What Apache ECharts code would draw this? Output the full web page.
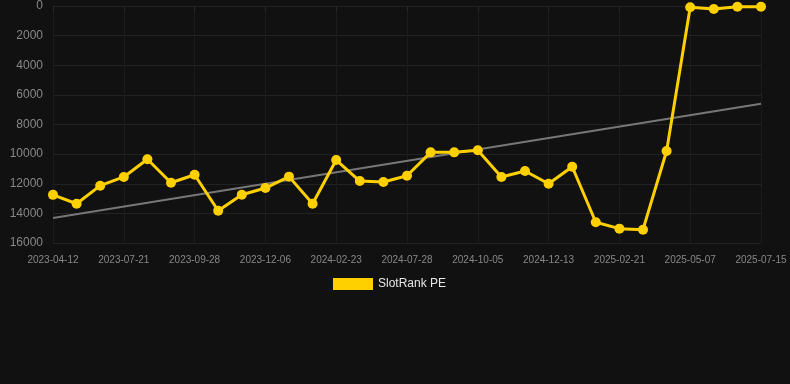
<!DOCTYPE html>
<html>
<head>
<meta charset="utf-8">
<script src="https://cdn.jsdelivr.net/npm/echarts@6/dist/echarts.min.js"></script>
<style>
  html, body { margin: 0; padding: 0; background: #111111; }
  #chart { width: 790px; height: 384px; }
</style>
</head>
<body>
<div id="chart"></div>
<script>
const dates = [
  '2023-04-12', '2023-05-15', '2023-06-17', '2023-07-21', '2023-08-13', '2023-09-05',
  '2023-09-28', '2023-10-21', '2023-11-13', '2023-12-06', '2024-01-04', '2024-01-29',
  '2024-02-23', '2024-04-05', '2024-06-16', '2024-07-28', '2024-08-20', '2024-09-12',
  '2024-10-05', '2024-10-28', '2024-11-20', '2024-12-13', '2025-01-05', '2025-01-29',
  '2025-02-21', '2025-03-18', '2025-04-12', '2025-05-07', '2025-05-30', '2025-06-22',
  '2025-07-15'
];

const rankValues = [
  12750, 13350, 12130, 11540, 10350, 11930,
  11390, 13820, 12740, 12290, 11520, 13350,
  10400, 11820, 11880, 11460, 9880, 9880,
  9740, 11540, 11140, 12000, 10850, 14600,
  15030, 15100, 9790, 90, 200, 45,
  45
];

// trend line endpoints (first and last category)
const trendStart = 14310;
const trendEnd = 6600;
const trendValues = dates.map((d, i) => i === 0 ? trendStart : (i === dates.length - 1 ? trendEnd : null));

const yTicks = [0, 2000, 4000, 6000, 8000, 10000, 12000, 14000, 16000];

const chart = echarts.init(document.getElementById('chart'));

chart.setOption({
  backgroundColor: '#111111',
  animation: false,
  textStyle: { fontFamily: 'Arial, "Liberation Sans", sans-serif' },
  grid: { left: 53, right: 29, top: 6, bottom: 141, containLabel: false },
  legend: {
    data: [{ name: 'SlotRank PE', icon: 'rect' }],
    top: 273,
    left: 328,
    itemWidth: 40,
    itemHeight: 12,
    itemGap: 10,
    textStyle: { color: '#e6e6e6', fontSize: 12 }
  },
  xAxis: {
    type: 'category',
    data: dates,
    boundaryGap: false,
    axisLine: { show: false },
    axisTick: { show: true, interval: 2, length: 5, lineStyle: { color: '#2a2a2a' } },
    axisLabel: { interval: 2, color: '#888888', fontSize: 10, margin: 12 },
    splitLine: { show: true, interval: 2, lineStyle: { color: '#1c1c1c', width: 1 } }
  },
  yAxis: {
    type: 'value',
    inverse: true,
    min: yTicks[0],
    max: yTicks[yTicks.length - 1],
    interval: 2000,
    axisLine: { show: false },
    axisTick: { show: false },
    axisLabel: { color: '#888888', fontSize: 12, margin: 10, formatter: v => String(v) },
    splitLine: { lineStyle: { color: '#222222', width: 1 } }
  },
  series: [
    {
      name: 'trend',
      type: 'line',
      data: trendValues,
      connectNulls: true,
      symbol: 'none',
      lineStyle: { color: '#777777', width: 2 },
      z: 1,
      silent: true
    },
    {
      name: 'SlotRank PE',
      type: 'line',
      data: rankValues,
      symbol: 'circle',
      symbolSize: 10,
      lineStyle: { color: '#FFD000', width: 3 },
      itemStyle: { color: '#FFD000' },
      z: 3
    }
  ]
});
</script>
</body>
</html>
